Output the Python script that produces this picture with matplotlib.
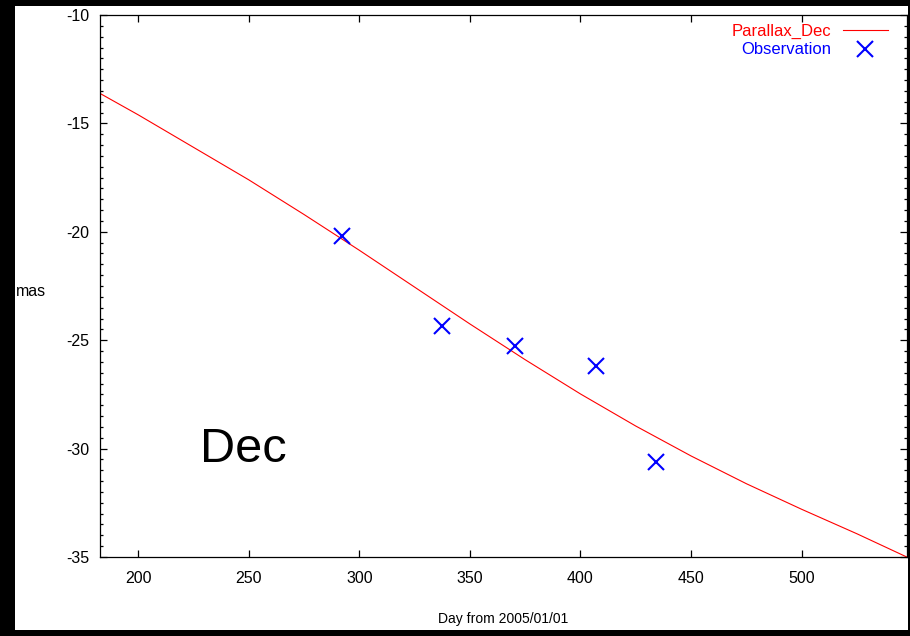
import matplotlib
matplotlib.use('Agg')
import matplotlib.pyplot as plt
import matplotlib.ticker as ticker
from matplotlib.patches import Rectangle

# parallax model curve (Dec)
model_days = [182.5, 200, 225, 250, 275, 300, 325, 350, 375, 400, 425, 450, 475, 500, 525, 547.5]
model_dec = [-13.6, -14.6, -16.1, -17.6, -19.2, -20.85, -22.55, -24.25, -25.9,
             -27.48, -28.96, -30.34, -31.62, -32.8, -33.93, -35.0]

# observed positions
obs_days = [292.0, 337.3, 370.4, 407.0, 434.1]
obs_dec = [-20.2, -24.35, -25.25, -26.2, -30.6]

x_ticks = [200, 250, 300, 350, 400, 450, 500]
y_ticks = [-35, -30, -25, -20, -15, -10]

plt.rcParams['font.family'] = ['Liberation Sans', 'DejaVu Sans']
plt.rcParams['axes.unicode_minus'] = False

fig = plt.figure(figsize=(9.1, 6.36), dpi=100, facecolor='black')
# white page inside the black frame
fig.patches.append(Rectangle((15 / 910, 6 / 636), 893 / 910, 624 / 636,
                             transform=fig.transFigure, facecolor='white',
                             edgecolor='none', zorder=-10))

ax = fig.add_axes([100 / 910, 79 / 636, 807 / 910, 542 / 636])
ax.set_facecolor('white')

ax.plot(model_days, model_dec, color='red', linewidth=0.8, label='Parallax_Dec')
ax.plot(obs_days, obs_dec, linestyle='none', marker='x', color='blue',
        markersize=11, markeredgewidth=1.5, label='Observation')

ax.set_xlim(182.8, 547.6)
ax.set_ylim(-35, -10)
ax.set_xticks(x_ticks)
ax.set_yticks(y_ticks)
ax.yaxis.set_minor_locator(ticker.MultipleLocator(0.5))

ax.tick_params(which='both', direction='in', top=True, right=True, width=0.9,
               labelsize=11.5)
ax.tick_params(which='major', length=5)
ax.tick_params(which='minor', length=2.5)
ax.tick_params(axis='x', pad=10)
ax.tick_params(axis='y', pad=8)
for s in ax.spines.values():
    s.set_linewidth(0.9)

fig.text(16 / 910, 1 - 292 / 636, 'mas', fontsize=11.5, ha='left', va='center')
fig.text(503 / 910, 1 - 619 / 636, 'Day from 2005/01/01', fontsize=10,
         ha='center', va='center')

ax.text(228, -30.6, 'Dec', fontsize=35, ha='left', va='baseline')

leg = ax.legend(loc='upper right', bbox_to_anchor=(1 - 19 / 807, 1 - 9 / 542),
                frameon=False, markerfirst=False, labelcolor='linecolor',
                fontsize=12, borderpad=0, borderaxespad=0, handlelength=2.7,
                handletextpad=0.7, labelspacing=0.2)

plt.savefig('out.png', dpi=100, facecolor='black')
